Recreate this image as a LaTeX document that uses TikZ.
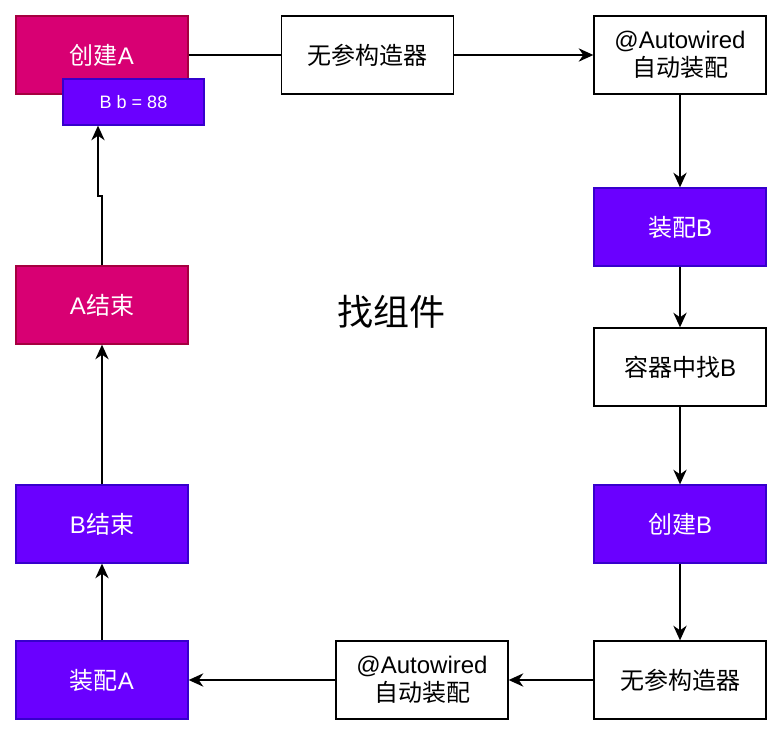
\documentclass[tikz,border=0pt]{standalone}
\usepackage{fontspec}
\setmainfont{Liberation Sans}
\newfontfamily\cjk{Noto Sans CJK SC}
\usetikzlibrary{arrows.meta}
\definecolor{crim}{HTML}{D80073}
\definecolor{crimline}{HTML}{A50040}
\definecolor{purp}{HTML}{6A00FF}
\definecolor{purpline}{HTML}{3700CC}
\begin{document}
\begin{tikzpicture}[x=0.75pt,y=-0.75pt,
  box/.style={draw=black,line width=1pt,fill=white,minimum width=129pt,minimum height=58.5pt,inner sep=0pt,align=center,font=\fontsize{18pt}{21pt}\selectfont},
  redbox/.style={box,fill=crim,draw=crimline,text=white},
  purbox/.style={box,fill=purp,draw=purpline,text=white},
  arr/.style={line width=1.1pt,-{Stealth[length=11pt,width=10pt,inset=3.5pt]}},
  ln/.style={line width=1.1pt}]
\useasboundingbox (0,0) rectangle (782,735);
\node[redbox] (cA) at (102,55) {{\cjk 创建}A};
\node[purbox,minimum width=105.75pt,minimum height=34.5pt,font=\fontsize{13.5pt}{16pt}\selectfont] (bb) at (133.5,102) {B b = 88};
\node[box] (ctor1) at (367.5,55) {\cjk 无参构造器};
\node[box] (aw1) at (680,55) {@Autowired\\{\cjk 自动装配}};
\node[purbox] (zpB) at (680,227) {{\cjk 装配}B};
\node[box] (find) at (680,367) {{\cjk 容器中找}B};
\node[purbox] (cB) at (680,524) {{\cjk 创建}B};
\node[box] (ctor2) at (680,680) {\cjk 无参构造器};
\node[box] (aw2) at (422,680) {@Autowired\\{\cjk 自动装配}};
\node[purbox] (zpA) at (102,680) {{\cjk 装配}A};
\node[purbox] (Bend) at (102,524) {B{\cjk 结束}};
\node[redbox] (Aend) at (102,305) {A{\cjk 结束}};
\node[font=\fontsize{27pt}{30pt}\selectfont\cjk] (title) at (391,312) {找组件};
\draw[ln] (cA) -- (ctor1);
\draw[arr] (ctor1) -- (aw1);
\draw[arr] (aw1) -- (zpB);
\draw[arr] (zpB) -- (find);
\draw[arr] (find) -- (cB);
\draw[arr] (cB) -- (ctor2);
\draw[arr] (ctor2) -- (aw2);
\draw[arr] (aw2) -- (zpA);
\draw[arr] (zpA) -- (Bend);
\draw[arr] (Bend) -- (Aend);
\coordinate (j1) at (102,196);
\coordinate (j2) at (98,196);
\draw[arr] (Aend.north) -- (j1) -- (j2) -- (j2 |- bb.south);
\end{tikzpicture}
\end{document}
